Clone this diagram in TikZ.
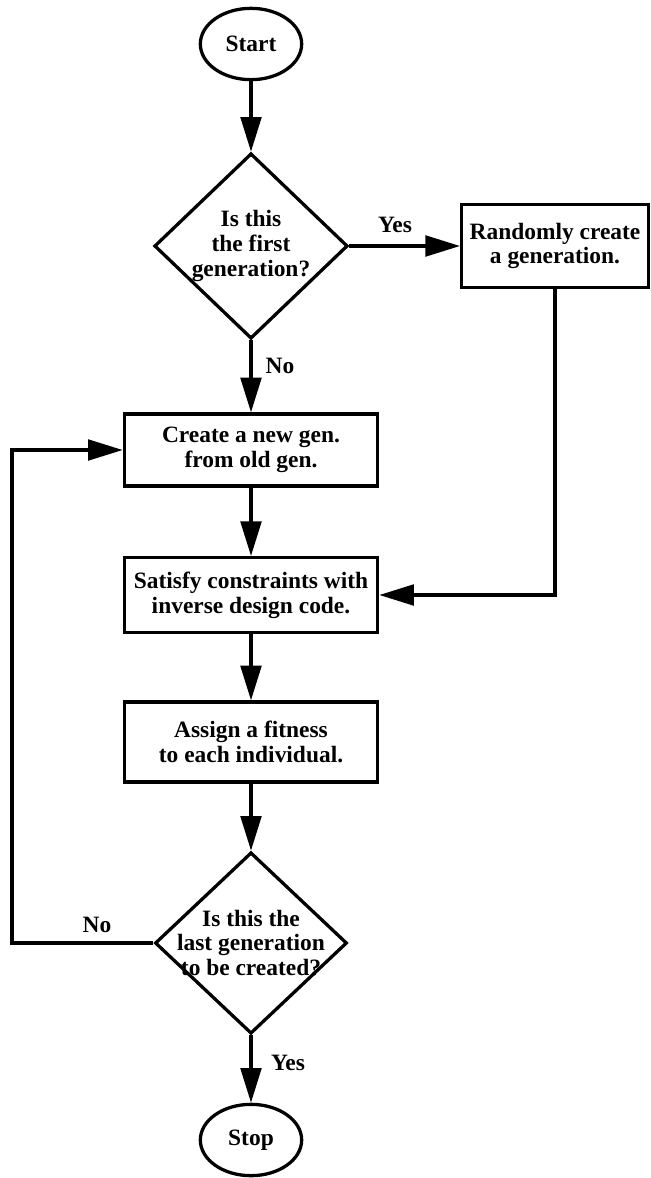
\documentclass[tikz,border=0pt]{standalone}
\usepackage{fontspec}
\setmainfont{Liberation Serif}
\usetikzlibrary{shapes.geometric,arrows.meta}

\begin{document}
\begin{tikzpicture}[
  x=0.015cm, y=-0.015cm,
  font=\bfseries\fontsize{10}{10.6}\selectfont,
  every node/.style={
    draw, line width=1.4pt, align=center, inner sep=2pt
  },
  term/.style={ellipse, minimum width=1.52cm, minimum height=1.07cm},
  proc/.style={rectangle, minimum width=3.8cm, minimum height=1.12cm},
  ask/.style={diamond, inner sep=-6mm, minimum width=2.9cm, minimum height=2.78cm},
  lbl/.style={draw=none, inner sep=1pt},
  edge/.style={line width=1.4pt, -{Triangle[length=5.2mm, width=3.1mm]}},
]
\useasboundingbox (0,0) rectangle (650,1178);

% ---- Nodes ----
\node (start)   at (251,  44) [term] {Start};
\node (first)   at (251, 246) [ask]  {Is this\\the first\\generation?};
\node (rand)    at (555, 246) [proc, minimum width=2.8cm, minimum height=1.25cm]
                {Randomly create\\a generation.};
\node (create)  at (251, 450) [proc, minimum height=1.08cm] {Create a new gen.\\from old gen.};
\node (satisfy) at (251, 595) [proc] {Satisfy constraints with\\inverse design code.};
\node (assign)  at (251, 742) [proc, minimum height=1.2cm] {Assign a fitness\\to each individual.};
\node (last)    at (251, 943) [ask, minimum width=2.88cm, minimum height=2.72cm]
                {Is this the\\last generation\\to be created?};
\node (stop)    at (251,1140) [term] {Stop};

\coordinate (loopx) at (12,0);

% ---- Labels ----
\node (yes1) at (395, 225) [lbl] {Yes};
\node (no1)  at (280, 366) [lbl] {No};
\node (no2)  at ( 97, 925) [lbl] {No};
\node (yes2) at (288,1063) [lbl] {Yes};

% ---- Edges ----
\foreach \a/\b in {start/first, first/create, create/satisfy,
                   satisfy/assign, assign/last, last/stop, first/rand}
  \draw[edge] (\a) -- (\b);

\draw[edge] (rand.south) |- (satisfy.east);
\draw[edge] (last.west) -- (last.west -| loopx) |- (create.west);

\end{tikzpicture}
\end{document}
